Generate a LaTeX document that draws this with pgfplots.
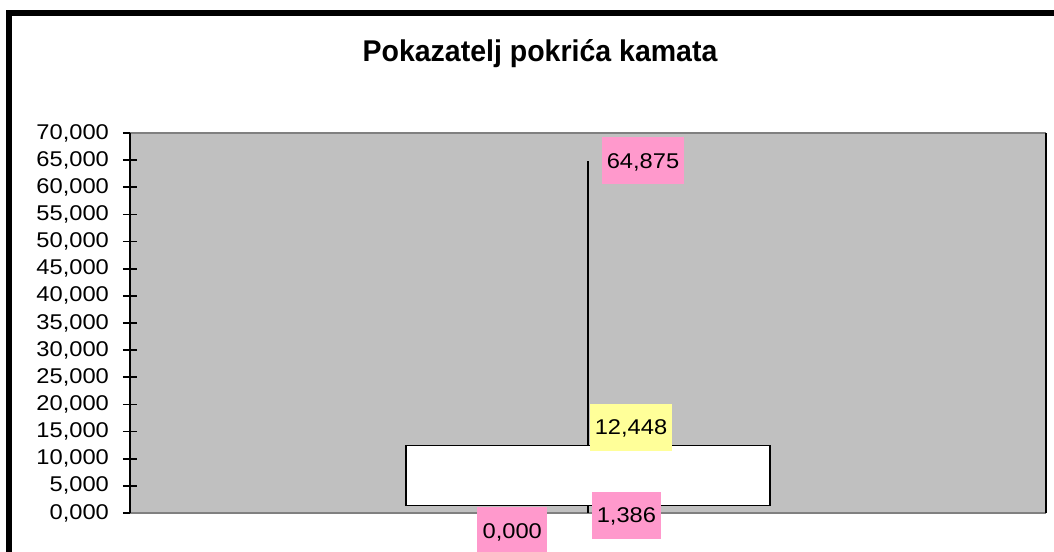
\documentclass[border=0pt]{standalone}
\usepackage{fontspec}
\setmainfont{Liberation Sans}
\usepackage{pgfplots}
\pgfplotsset{compat=1.18}
\definecolor{plotgray}{HTML}{C0C0C0}
\definecolor{bordergray}{HTML}{808080}
\definecolor{lblpink}{HTML}{FF99CC}
\definecolor{lblyellow}{HTML}{FFFF99}
\begin{document}
\begin{tikzpicture}
\useasboundingbox (0,0) rectangle (790.5pt,414pt);
\clip (0,0) rectangle (790.5pt,414pt);
\fill[white] (0,0) rectangle (790.5pt,414pt);
\draw[line width=4.3pt] (6.8pt,-20pt) -- (6.8pt,404.25pt) -- (820pt,404.25pt);
\node[font=\fontsize{22.5}{26}\selectfont\bfseries, xscale=0.95] at (405pt,374pt) {Pokazatelj pokrića kamata};
\begin{axis}[
  at={(97.5pt,29.25pt)}, anchor=south west,
  scale only axis, width=687pt, height=285pt,
  xmin=0, xmax=2, ymin=0, ymax=70,
  axis background/.style={fill=plotgray},
  axis line style={bordergray, line width=1.2pt},
  separate axis lines,
  y axis line style={black, line width=1.2pt},
  xtick=\empty,
  ytick={0,5,...,70},
  ytick pos=left,
  tick align=center, major tick length=10.5pt,
  tick style={black, line width=1.2pt},
  y tick label style={font=\fontsize{16}{18}\selectfont, xscale=1.11, xshift=-6pt, /pgf/number format/.cd, fixed, fixed zerofill, precision=3, use comma, assume math mode=true},
  clip=false,
]
\addplot[black, line width=1.3pt] coordinates {(1,0) (1,64.875)};
\addplot[draw=black, fill=white, line width=1.3pt] coordinates {(0.603,1.386) (1.397,1.386) (1.397,12.448) (0.603,12.448) (0.603,1.386)} -- cycle;
\tikzset{lbl/.style={font=\fontsize{16}{18}\selectfont, xscale=1.11, inner xsep=3.5pt, minimum height=35.25pt, text depth=0pt}}
\node[lbl, fill=lblpink, anchor=west] at ([xshift=10pt]axis cs:1,64.875) {64,875};
\node[lbl, fill=lblyellow, anchor=west] at ([xshift=1pt,yshift=13.5pt]axis cs:1,12.448) {12,448};
\node[lbl, fill=lblpink, anchor=west] at ([xshift=2.5pt,yshift=-7.5pt]axis cs:1,1.386) {1,386};
\node[lbl, fill=lblpink, anchor=east] at ([xshift=-30.5pt,yshift=-13.5pt]axis cs:1,0) {0,000};
\end{axis}
\end{tikzpicture}
\end{document}
